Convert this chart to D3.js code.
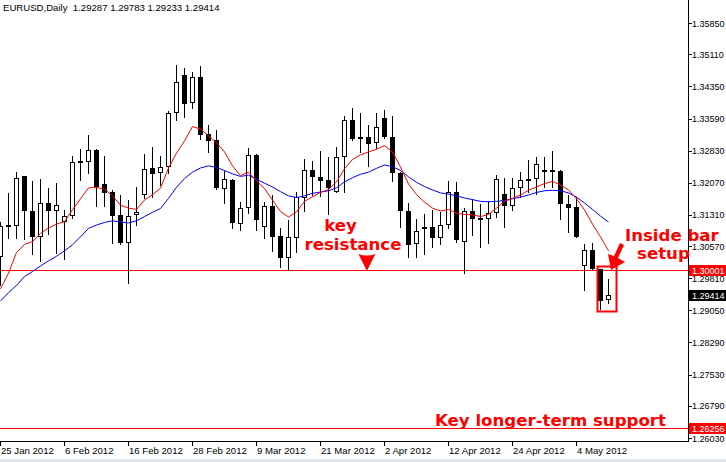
<!DOCTYPE html>
<html>
<head>
<meta charset="utf-8">
<script src="https://cdn.jsdelivr.net/npm/d3@7"></script>
<style>
body { margin: 0; background: #fff; }
svg { display: block; }
</style>
</head>
<body>
<svg id="chart" width="726" height="462"></svg>
<script>
// EURUSD daily, 25 Jan 2012 .. 10 May 2012 (one entry per bar)
var opens = [1.3031,1.3106,1.3105,1.3223,1.3140,1.3079,1.3159,1.3141,1.3115,1.3129,
1.3259,1.3257,1.3285,1.3204,1.3186,1.3131,1.3064,1.3130,1.3177,1.3241,
1.3229,1.3245,1.3371,1.3462,1.3395,1.3457,1.3322,1.3308,1.3192,1.3214,
1.3109,1.3147,1.3273,1.3102,1.3152,1.3081,1.3030,1.3077,1.3172,1.3237,
1.3221,1.3214,1.3186,1.3269,1.3356,1.3310,1.3315,1.3300,1.3360,1.3316,
1.3231,1.3140,1.3061,1.3102,1.3102,1.3077,1.3106,1.3184,1.3066,1.3140,
1.3124,1.3121,1.3135,1.3180,1.3153,1.3194,1.3215,1.3215,1.3237,1.3237,
1.3235,1.3157,1.3150,1.3010,1.3048,1.3002,1.29287];
var highs = [1.3114,1.3183,1.3232,1.3224,1.3211,1.3216,1.3195,1.3206,1.3143,1.3270,
1.3286,1.3320,1.3286,1.3270,1.3190,1.3178,1.3166,1.3198,1.3276,1.3292,
1.3270,1.3377,1.3486,1.3479,1.3470,1.3483,1.3344,1.3332,1.3235,1.3216,
1.3161,1.3289,1.3275,1.3161,1.3178,1.3101,1.3119,1.3186,1.3263,1.3259,
1.3283,1.3268,1.3292,1.3365,1.3383,1.3371,1.3344,1.3373,1.3379,1.3365,
1.3232,1.3159,1.3121,1.3133,1.3143,1.3138,1.3210,1.3208,1.3147,1.3169,
1.3157,1.3164,1.3225,1.3218,1.3218,1.3233,1.3261,1.3267,1.3267,1.3283,
1.3237,1.3178,1.3173,1.3062,1.3065,1.3004,1.29783];
var lows = [1.2965,1.3076,1.3076,1.3074,1.3038,1.3022,1.3086,1.3040,1.3026,1.3124,
1.3214,1.3231,1.3152,1.3152,1.3064,1.3063,1.2970,1.3106,1.3170,1.3173,
1.3202,1.3230,1.3356,1.3363,1.3385,1.3311,1.3280,1.3192,1.3159,1.3100,
1.3095,1.3135,1.3095,1.3076,1.3046,1.3008,1.3001,1.3044,1.3139,1.3178,
1.3176,1.3133,1.3185,1.3186,1.3308,1.3280,1.3247,1.3290,1.3314,1.3211,
1.3103,1.3032,1.3032,1.3038,1.3055,1.3062,1.3101,1.3067,1.2993,1.3083,
1.3055,1.3064,1.3127,1.3102,1.3143,1.3173,1.3186,1.3180,1.3198,1.3198,
1.3121,1.3091,1.3078,1.2953,1.3002,1.2908,1.29233];
var closes = [1.3105,1.3105,1.3218,1.3139,1.3079,1.3159,1.3141,1.3154,1.3128,1.3257,
1.3256,1.3285,1.3196,1.3183,1.3128,1.3064,1.3128,1.3138,1.3239,1.3228,
1.3245,1.3371,1.3445,1.3393,1.3457,1.3320,1.3306,1.3194,1.3215,1.3111,
1.3147,1.3273,1.3118,1.3152,1.3079,1.3028,1.3079,1.3174,1.3237,1.3221,
1.3211,1.3195,1.3268,1.3356,1.3311,1.3315,1.3299,1.3338,1.3316,1.3229,
1.3139,1.3060,1.3093,1.3098,1.3077,1.3107,1.3184,1.3072,1.3141,1.3122,
1.3121,1.3135,1.3215,1.3152,1.3194,1.3214,1.3211,1.3251,1.3233,1.3233,
1.3156,1.3148,1.3079,1.3048,1.3002,1.2926,1.29414];

// moving averages as drawn on the chart (red = fast, blue = slow)
var maFast = [1.2956,1.2993,1.3042,1.3061,1.3068,1.3087,1.3100,1.3109,1.3115,1.3143,
1.3169,1.3195,1.3196,1.3192,1.3176,1.3154,1.3147,1.3144,1.3166,1.3179,
1.3194,1.3242,1.3277,1.3306,1.3340,1.3334,1.3318,1.3302,1.3280,1.3247,
1.3224,1.3232,1.3212,1.3193,1.3166,1.3139,1.3126,1.3138,1.3163,1.3174,
1.3184,1.3191,1.3209,1.3240,1.3262,1.3273,1.3280,1.3286,1.3295,1.3280,
1.3244,1.3204,1.3179,1.3161,1.3147,1.3140,1.3144,1.3135,1.3132,1.3131,
1.3127,1.3132,1.3147,1.3163,1.3170,1.3178,1.3189,1.3197,1.3205,1.3210,
1.3202,1.3190,1.3169,1.3143,1.3109,1.3079,1.3046];
var maSlow = [1.2927,1.2947,1.2964,1.2985,1.2997,1.3010,1.3022,1.3033,1.3046,1.3060,
1.3079,1.3099,1.3107,1.3113,1.3117,1.3114,1.3112,1.3117,1.3127,1.3137,
1.3146,1.3170,1.3196,1.3217,1.3232,1.3242,1.3247,1.3243,1.3236,1.3228,
1.3222,1.3225,1.3215,1.3206,1.3197,1.3186,1.3176,1.3172,1.3176,1.3182,
1.3185,1.3188,1.3195,1.3209,1.3219,1.3227,1.3232,1.3241,1.3249,1.3245,
1.3236,1.3221,1.3208,1.3198,1.3190,1.3183,1.3180,1.3176,1.3171,1.3167,
1.3163,1.3162,1.3163,1.3165,1.3169,1.3173,1.3178,1.3184,1.3188,1.3189,
1.3188,1.3183,1.3173,1.3159,1.3144,1.3128,1.3114];

var dateLabels = ['25 Jan 2012','6 Feb 2012','16 Feb 2012','28 Feb 2012','9 Mar 2012',
  '21 Mar 2012','2 Apr 2012','12 Apr 2012','24 Apr 2012','4 May 2012'];
var dateBars = [0,8,16,24,32,40,48,56,64,72];
var priceTicks = ['1.35850','1.35110','1.34350','1.33590','1.32830','1.32070','1.31310',
  '1.30570','1.29810','1.29050','1.28290','1.27530','1.26790','1.26030'];

var resistance = 1.30001;
var support = 1.26256;
var lastClose = 1.29414;

var plotW = 688, plotH = 441;
var red = '#ff0000';

var svg = d3.select('#chart');

var x = d3.scaleLinear().domain([0, 86]).range([0.5, 688.5]);
var y = d3.scaleLinear().domain([1.2603, 1.3585]).range([438, 23]);

function py(v) { return Math.round(y(v)) + 0.5; }

svg.append('rect').attr('width', 726).attr('height', 462).attr('fill', '#fff');

svg.append('defs').append('clipPath').attr('id', 'plotclip')
  .append('rect').attr('x', 0).attr('y', 0).attr('width', plotW).attr('height', plotH);

var plot = svg.append('g').attr('clip-path', 'url(#plotclip)');

// key levels
plot.selectAll('.level')
  .data([resistance, support])
  .enter().append('line')
  .attr('class', 'level')
  .attr('x1', 0).attr('x2', plotW)
  .attr('y1', function(d) { return py(d); })
  .attr('y2', function(d) { return py(d); })
  .attr('stroke', red).attr('stroke-width', 1);

var bars = opens.map(function(o, i) {
  return { i: i, o: o, h: highs[i], l: lows[i], c: closes[i] };
});

plot.selectAll('.wick')
  .data(bars)
  .enter().append('line')
  .attr('class', 'wick')
  .attr('x1', function(d) { return x(d.i); })
  .attr('x2', function(d) { return x(d.i); })
  .attr('y1', function(d) { return Math.round(y(d.h)); })
  .attr('y2', function(d) { return Math.round(y(d.l)) + 1; })
  .attr('stroke', '#000');

// bear bodies filled, bull bodies hollow
plot.selectAll('.bear')
  .data(bars.filter(function(d) { return d.c < d.o; }))
  .enter().append('rect')
  .attr('class', 'bear')
  .attr('x', function(d) { return x(d.i) - 2.5; })
  .attr('y', function(d) { return Math.round(y(d.o)); })
  .attr('width', 5)
  .attr('height', function(d) { return Math.max(2, Math.round(y(d.c)) - Math.round(y(d.o))); })
  .attr('fill', '#000');

plot.selectAll('.bull')
  .data(bars.filter(function(d) { return d.c >= d.o; }))
  .enter().append('rect')
  .attr('class', 'bull')
  .attr('x', function(d) { return x(d.i) - 2; })
  .attr('y', function(d) { return Math.round(y(d.c)) + 0.5; })
  .attr('width', 4)
  .attr('height', function(d) { return Math.max(1, Math.round(y(d.o)) - Math.round(y(d.c)) - 1); })
  .attr('fill', '#fff')
  .attr('stroke', '#000');

var line = d3.line()
  .x(function(d, i) { return x(i); })
  .y(function(d) { return y(d); });

plot.append('path').datum(maSlow)
  .attr('d', line).attr('fill', 'none').attr('stroke', '#0000ff').attr('stroke-width', 1);
plot.append('path').datum(maFast)
  .attr('d', line).attr('fill', 'none').attr('stroke', red).attr('stroke-width', 1);

// axes frame
svg.append('line').attr('x1', plotW + 0.5).attr('x2', plotW + 0.5).attr('y1', 0).attr('y2', plotH + 1)
  .attr('stroke', '#000');
svg.append('line').attr('x1', 0).attr('x2', plotW + 1).attr('y1', plotH + 0.5).attr('y2', plotH + 0.5)
  .attr('stroke', '#000');

// thin grey strip under the window
svg.append('rect').attr('x', 0).attr('y', 459).attr('width', 726).attr('height', 3).attr('fill', '#e3e6ea');

var fontSmall = '"Liberation Sans", Arial, sans-serif';

var yt = svg.append('g').attr('class', 'axis axis--y');
yt.selectAll('line').data(priceTicks).enter().append('line')
  .attr('x1', plotW + 1).attr('x2', plotW + 4)
  .attr('y1', function(d) { return py(+d); })
  .attr('y2', function(d) { return py(+d); })
  .attr('stroke', '#000');
yt.selectAll('text').data(priceTicks).enter().append('text')
  .attr('x', 692)
  .attr('y', function(d) { return y(+d) + 3.5; })
  .attr('font-family', fontSmall).attr('font-size', '9px').attr('fill', '#000')
  .text(function(d) { return d; });

var xt = svg.append('g').attr('class', 'axis axis--x');
xt.selectAll('line').data(dateBars).enter().append('line')
  .attr('x1', function(d) { return x(d); })
  .attr('x2', function(d) { return x(d); })
  .attr('y1', plotH + 1).attr('y2', plotH + 5)
  .attr('stroke', '#000');
xt.selectAll('text').data(dateBars).enter().append('text')
  .attr('x', function(d) { return x(d) + 0.5; })
  .attr('y', 454)
  .attr('font-family', fontSmall).attr('font-size', '9.6px').attr('fill', '#000')
  .text(function(d, i) { return dateLabels[i]; });

// price tags on the scale
var tags = [
  { v: resistance, fill: red },
  { v: lastClose, fill: '#000' },
  { v: support, fill: red }
];
var tg = svg.selectAll('.tag').data(tags).enter().append('g').attr('class', 'tag');
tg.append('rect')
  .attr('x', plotW + 1).attr('y', function(d) { return Math.round(y(d.v)) - 5; })
  .attr('width', 726 - plotW).attr('height', 11)
  .attr('fill', function(d) { return d.fill; });
tg.append('text')
  .attr('x', 692).attr('y', function(d) { return Math.round(y(d.v)) + 4; })
  .attr('font-family', fontSmall).attr('font-size', '9px').attr('fill', '#fff')
  .text(function(d) { return d.v.toFixed(5); });

// header
svg.append('text')
  .attr('x', 3).attr('y', 11)
  .attr('font-family', fontSmall).attr('font-size', '9.6px').attr('fill', '#000')
  .attr('xml:space', 'preserve')
  .text('EURUSD,Daily  ' + [opens[76], highs[76], lows[76], closes[76]].map(function(v) { return v.toFixed(5); }).join(' '));

// annotations
var fontBig = '"DejaVu Sans", Verdana, sans-serif';
function note(tx, ty, s, anchor) {
  svg.append('text').attr('x', tx).attr('y', ty)
    .attr('font-family', fontBig).attr('font-weight', 'bold').attr('font-size', '16.6px')
    .attr('fill', red).attr('text-anchor', anchor || 'start')
    .text(s);
}
note(340.5, 231, 'key', 'middle');
note(353, 250, 'resistance', 'middle');
note(625, 241, 'Inside bar');
note(637, 259, 'setup');
note(435, 426, 'Key longer-term support');

// arrow under "resistance"
var ax = x(45.8);
svg.append('path')
  .attr('d', 'M' + (ax - 8.5) + ',' + 254 + ' Q' + ax + ',' + 257 + ' ' + (ax + 8.5) + ',' + 254 +
    ' L' + ax + ',' + (py(resistance) + 0.5) + ' Z')
  .attr('fill', red);

// box around the last two bars + arrow to it
svg.append('rect')
  .attr('x', x(74.5) + 1).attr('y', py(highs[75]) - 3)
  .attr('width', 19).attr('height', py(lows[75]) - py(highs[75]) + 5)
  .attr('fill', 'none').attr('stroke', red).attr('stroke-width', 2);

svg.append('path')
  .attr('d', 'M620,243 L624,245 L618,258 L625,262 L611,270 L608,254 L614,256 Z')
  .attr('fill', red);
</script>
</body>
</html>
